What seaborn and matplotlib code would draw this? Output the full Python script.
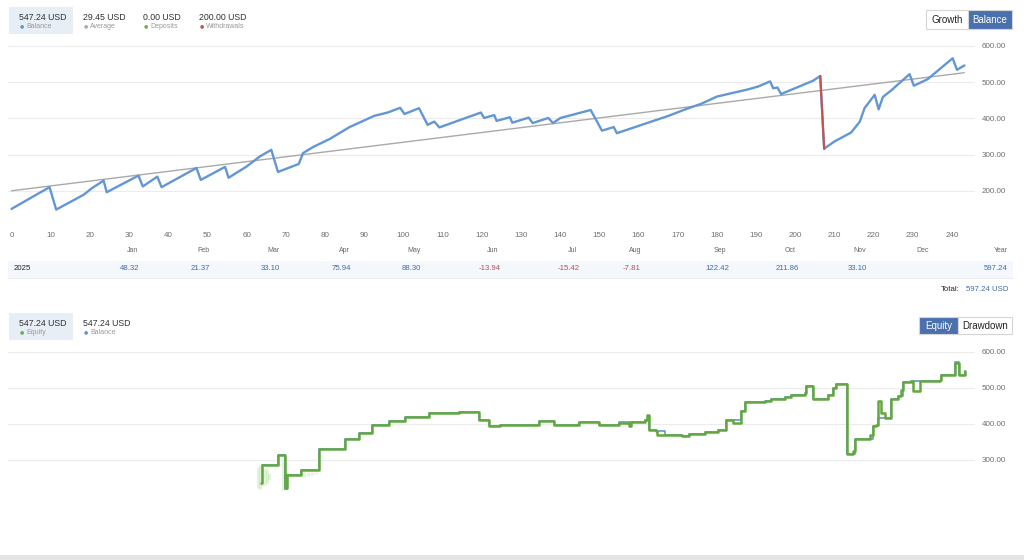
import matplotlib
matplotlib.use("Agg")
import matplotlib.pyplot as plt
from matplotlib.patches import Rectangle
import pandas as pd
import seaborn as sns

# ---- data ----
# balance curve (top panel), x = trade/day index
bal_x = [0, 9.7, 11.4, 18.4, 20.5, 23.5, 24.3, 32.4, 33.5, 37.2, 38.3, 47.2, 48.3, 54.5, 55.4,
         60, 63.4, 66.3, 68, 73.3, 74.4, 77, 81.2, 86.3, 92.6, 96, 99.2, 100.3, 104, 106.2,
         107.9, 109.2, 119.8, 120.6, 123.2, 123.8, 127.2, 127.8, 132, 133, 137, 138.2, 140.1,
         147.8, 150.7, 153.7, 154.5, 167.7, 172, 176, 180, 184, 188, 190.6, 193.6, 194.4,
         195.5, 196.4, 204.6, 206.4, 207.4, 210, 214.3, 216.5, 217.7, 220.3, 221.3, 222.4,
         224.5, 229.2, 230.3, 233.8, 240.2, 241.3, 243.2]
bal_y = [150, 210, 148, 189, 207, 228, 196, 242, 212, 239, 210, 263, 230, 266, 236,
         267, 295, 313, 252, 274, 304, 321, 343, 376, 407, 416, 429, 412, 428, 382,
         391, 375, 416, 401, 409, 393, 403, 388, 402, 387, 401, 387, 401,
         423, 366, 376, 359, 407, 425, 440, 460, 470, 480, 488, 502, 483,
         485, 467, 504, 517, 316, 336, 361, 391, 428, 465, 425, 459,
         477, 522, 490, 508, 566, 534, 546]
withdraw_x = [206.4, 207.4]
withdraw_y = [517, 316]
trend_x = [0, 243.2]
trend_y = [200, 526]

# equity curve (bottom panel), step line
eq_x = [63.6, 63.9, 67.9, 69.7, 70.4, 74.0, 78.6, 85.0, 88.8, 91.9, 96.4, 100.3, 106.6, 114.2,
        119.3, 121.9, 124.7, 134.6, 138.4, 144.8, 149.9, 155.0, 157.5, 158.0, 161.8, 162.2,
        162.6, 164.4, 164.7, 166.9, 171.0, 172.8, 177.1, 180.4, 182.4, 184.2, 186.3, 187.3,
        192.4, 193.9, 197.5, 199.0, 202.5, 202.8, 204.6, 208.4, 209.7, 210.4, 213.2, 214.8,
        215.3, 218.6, 219.1, 219.8, 220.6, 221.1, 221.9, 222.9, 224.4, 226.2, 227.0, 227.5,
        229.5, 230.0, 231.8, 236.9, 237.2, 240.7, 241.7, 243.3]
eq_y = [236, 286, 314, 222, 258, 272, 328, 356, 375, 397, 408, 419, 428, 433,
        411, 392, 397, 406, 397, 405, 397, 402, 392, 404, 409, 425,
        383, 379, 369, 367, 365, 372, 376, 383, 409, 402, 434, 459,
        462, 467, 474, 480, 485, 504, 467, 480, 499, 511, 316, 323,
        357, 357, 369, 392, 397, 462, 430, 416, 467, 476, 494, 515,
        518, 490, 518, 520, 536, 568, 536, 545]

# balance under the equity (bottom panel)
bb_x = [63.9, 67.9, 69.7, 70.4, 74.0, 78.6, 85.0, 88.8, 91.9, 96.4, 100.3, 106.6, 114.2, 119.3,
        121.9, 124.7, 134.6, 138.4, 144.8, 149.9, 155.0, 161.8, 162.6, 164.4, 166.9, 171.0,
        172.8, 177.1, 180.4, 182.4, 186.3, 187.3, 192.4, 193.9, 197.5, 199.0, 202.5, 202.8,
        204.6, 208.4, 209.7, 210.4, 213.2, 215.3, 218.6, 219.8, 221.1, 222.9, 224.4, 226.2,
        227.5, 229.5, 231.8, 237.2, 240.7, 241.7, 243.3]
bb_y = [286, 314, 217, 258, 272, 328, 356, 375, 397, 408, 419, 428, 433, 411,
        392, 397, 406, 397, 405, 397, 404, 409, 383, 379, 367, 365,
        372, 376, 383, 409, 434, 459, 462, 467, 474, 480, 485, 504,
        467, 480, 499, 511, 316, 357, 357, 392, 416, 416, 467, 476,
        515, 518, 518, 536, 570, 536, 545]

# faint smudge of open-position equity near the start of the bottom curve
smudge_x = [63.0, 63.5, 64.0, 64.6, 65.2, 65.8, 69.2, 69.8, 70.4, 74.6, 75.6, 76.6, 77.6]
smudge_lo = [222, 218, 226, 230, 236, 244, 216, 220, 228, 252, 254, 256, 260]
smudge_hi = [280, 284, 282, 276, 270, 264, 296, 286, 266, 268, 266, 266, 266]

months = ["Jan", "Feb", "Mar", "Apr", "May", "Jun", "Jul", "Aug", "Sep", "Oct", "Nov", "Dec"]
monthly = [48.32, 21.37, 33.10, 75.94, 88.30, -13.94, -15.42, -7.81, 122.42, 211.86, 33.10, None]
year_label = "2025"
year_total = 597.24

# ---- layout (pixel positions in the 1024x560 figure) ----
W, H = 1024, 560
month_px = [133, 203, 273, 344, 414, 493, 572, 635, 720, 790, 860, 923]

BLUE = "#6296d4"
GREEN = "#63a83e"
RED = "#c9514c"
GRAY = "#6f6f6f"
VAL_BLUE = "#3f6ca8"
BTN = "#4a70ae"

sns.set_theme(style="white")
plt.rcParams["font.family"] = ["Liberation Sans", "DejaVu Sans"]

fig = plt.figure(figsize=(W / 100, H / 100), dpi=100)


def fx(px):
    return px / W


def fy(py):
    return 1 - py / H


def box(x0, y0, x1, y1, fc, ec="none", lw=0.8):
    fig.add_artist(Rectangle((fx(x0), fy(y1)), fx(x1) - fx(x0), (y1 - y0) / H,
                             transform=fig.transFigure, facecolor=fc, edgecolor=ec,
                             linewidth=lw, zorder=0))


def stat(x, value, label, dot, y0):
    fig.text(fx(x), fy(y0 + 10), value, fontsize=6.3, color="#333333", va="center")
    fig.text(fx(x + 1), fy(y0 + 19), "\u25cf", fontsize=3.5, color=dot, va="center",
             family="DejaVu Sans")
    fig.text(fx(x + 7), fy(y0 + 19), label, fontsize=5, color="#999999", va="center")


def buttons(x0, xm, x1, y0, y1, left, right, active_left):
    box(x0, y0, xm, y1, BTN if active_left else "white", "#d5d5d5")
    box(xm, y0, x1, y1, "white" if active_left else BTN, "#d5d5d5")
    fig.text(fx((x0 + xm) / 2), fy((y0 + y1) / 2 + 0.5), left, fontsize=7, ha="center",
             va="center", color="white" if active_left else "#222222")
    fig.text(fx((xm + x1) / 2), fy((y0 + y1) / 2 + 0.5), right, fontsize=7, ha="center",
             va="center", color="#222222" if active_left else "white")


def style_axis(ax, yticks):
    ax.yaxis.tick_right()
    ax.set_yticks(yticks)
    ax.set_yticklabels([f"{v:.2f}" for v in yticks], fontsize=5.8, color=GRAY)
    ax.tick_params(axis="y", length=0, pad=5)
    ax.grid(axis="y", color="#ececec", linewidth=0.8)
    ax.grid(axis="x", visible=False)
    for s in ax.spines.values():
        s.set_visible(False)
    ax.set_xlabel("")
    ax.set_ylabel("")


# ---- top panel: balance ----
ax = fig.add_axes([fx(8), fy(225), fx(975) - fx(8), 180 / H])
ax.set_facecolor("none")
sns.lineplot(data=pd.DataFrame({"x": trend_x, "y": trend_y}), x="x", y="y", ax=ax,
             color="#a9a9a9", linewidth=1.0, estimator=None, sort=False)
sns.lineplot(data=pd.DataFrame({"x": bal_x, "y": bal_y}), x="x", y="y", ax=ax,
             color=BLUE, linewidth=1.7, estimator=None, sort=False)
sns.lineplot(data=pd.DataFrame({"x": withdraw_x, "y": withdraw_y}), x="x", y="y", ax=ax,
             color=RED, linewidth=1.5, estimator=None, sort=False)
ax.set_xlim(-0.9, 245.9)
ax.set_ylim(105.5, 602.5)
style_axis(ax, [200, 300, 400, 500, 600])
ax.set_xticks(range(0, 250, 10))
ax.set_xticklabels([str(v) for v in range(0, 250, 10)], fontsize=5.8, color=GRAY)
ax.tick_params(axis="x", length=0, pad=5)

# header of top panel
box(9, 7, 73, 34, "#e8eef6")
stat(19, "547.24 USD", "Balance", BLUE, 7)
stat(83, "29.45 USD", "Average", "#aaaaaa", 7)
stat(143, "0.00 USD", "Deposits", "#6ab04c", 7)
stat(199, "200.00 USD", "Withdrawals", RED, 7)
buttons(926, 968, 1012, 10, 29, "Growth", "Balance", False)

# monthly table
for m, p in zip(months, month_px):
    fig.text(fx(p), fy(250), m, fontsize=5, color="#666666", ha="center", va="center")
fig.text(fx(1008), fy(250), "Year", fontsize=5, color="#666666", ha="right", va="center")
box(8, 261, 1013, 278, "#f4f7fb")
fig.add_artist(plt.Line2D([fx(8), fx(1013)], [fy(278), fy(278)], transform=fig.transFigure,
                          color="#e6e9ee", linewidth=0.6))
fig.text(fx(14), fy(268), year_label, fontsize=5.6, color="#222222", va="center")
for v, p in zip(monthly, month_px):
    if v is None:
        continue
    fig.text(fx(p - 3), fy(268), f"{v:.2f}", fontsize=5.6, ha="center", va="center",
             color=VAL_BLUE if v >= 0 else "#b3504c")
fig.text(fx(1008), fy(268), f"{year_total:.2f}", fontsize=5.6, ha="right", va="center",
         color=VAL_BLUE)
fig.text(fx(1008), fy(289), f"{year_total:.2f} USD", fontsize=5.6, ha="right", va="center",
         color=VAL_BLUE)
fig.text(fx(960), fy(289), "Total:", fontsize=5.6, ha="right", va="center", color="#222222")

# ---- bottom panel: equity ----
ax2 = fig.add_axes([fx(8), fy(555), fx(975) - fx(8), 204 / H])
ax2.set_facecolor("none")
ax2.vlines(smudge_x, smudge_lo, smudge_hi, color="#a6d98a", alpha=0.3, linewidth=2.2)
sns.lineplot(data=pd.DataFrame({"x": bb_x, "y": bb_y}), x="x", y="y", ax=ax2,
             color=BLUE, linewidth=1.2, estimator=None, sort=False, drawstyle="steps-post")
sns.lineplot(data=pd.DataFrame({"x": eq_x, "y": eq_y}), x="x", y="y", ax=ax2,
             color=GREEN, linewidth=1.8, estimator=None, sort=False, drawstyle="steps-post")
ax2.set_xlim(-0.9, 245.9)
ax2.set_ylim(35, 601.5)
style_axis(ax2, [300, 400, 500, 600])
ax2.set_xticks([])

box(9, 313, 73, 340, "#e8eef6")
stat(19, "547.24 USD", "Equity", "#6ab04c", 313)
stat(83, "547.24 USD", "Balance", BLUE, 313)
buttons(919, 958, 1012, 317, 334, "Equity", "Drawdown", True)

# light strip at the bottom edge
box(0, 555, 1024, 560, "#e4e4e4")

fig.savefig("out.png", dpi=100)
